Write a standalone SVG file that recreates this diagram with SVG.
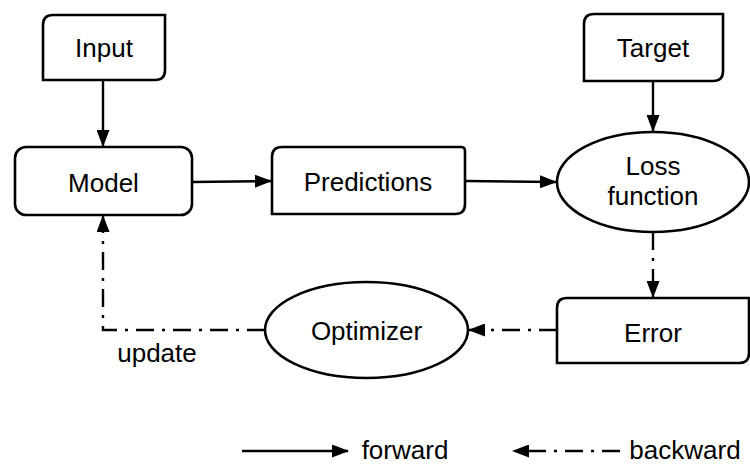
<svg xmlns="http://www.w3.org/2000/svg" width="750" height="466" viewBox="0 0 750 466">
<style>
.n{fill:#fff;stroke:#000;stroke-width:2.6}
.t{font-family:"Liberation Sans",Arial,sans-serif;font-size:26px;fill:#000;text-anchor:middle}
.c{fill:none;stroke:#000;stroke-width:2.4}
.d{stroke-dasharray:18,8,3,8}
</style>
<defs>
<marker id="ah" markerUnits="userSpaceOnUse" markerWidth="17" markerHeight="13" refX="16" refY="6.5" orient="auto">
<path d="M0,0 L17,6.5 L0,13 Z" fill="#000"/>
</marker>
</defs>
<rect width="750" height="466" fill="#fff"/>
<g id="connectors">
<path class="c" d="M103,80 V146" marker-end="url(#ah)"/>
<path class="c" d="M653,81 V131" marker-end="url(#ah)"/>
<path class="c" d="M192,182 L271,181" marker-end="url(#ah)"/>
<path class="c" d="M465,181 L556,182" marker-end="url(#ah)"/>
<path class="c d" d="M653,232 V297" marker-end="url(#ah)"/>
<path class="c d" d="M557,330 H469" marker-end="url(#ah)"/>
<path class="c d" d="M265,330 H103 V216" marker-end="url(#ah)"/>
<text class="t" x="157" y="362">update</text>
</g>
<g id="input">
<path class="n" d="M53,15 H165 V70 Q165,80 155,80 H43 V25 Q43,15 53,15 Z"/>
<text class="t" x="104" y="57">Input</text>
</g>
<g id="target">
<path class="n" d="M594,14 H723 V71 Q723,81 713,81 H584 V24 Q584,14 594,14 Z"/>
<text class="t" x="653" y="57">Target</text>
</g>
<g id="model">
<rect class="n" x="15" y="147" width="177" height="68" rx="11"/>
<text class="t" x="103.5" y="192">Model</text>
</g>
<g id="predictions">
<path class="n" d="M282,147 H461 Q465,147 465,151 V204 Q465,214 455,214 H272 V157 Q272,147 282,147 Z"/>
<text class="t" x="368" y="191">Predictions</text>
</g>
<g id="loss">
<ellipse class="n" cx="653" cy="182" rx="96" ry="50"/>
<text class="t" x="653" y="175">Loss</text>
<text class="t" x="653" y="205">function</text>
</g>
<g id="error">
<path class="n" d="M567,298 H749 V353 Q749,363 739,363 H557 V308 Q557,298 567,298 Z"/>
<text class="t" x="653" y="342">Error</text>
</g>
<g id="optimizer">
<ellipse class="n" cx="366.5" cy="330" rx="101.5" ry="48"/>
<text class="t" x="366.5" y="340">Optimizer</text>
</g>
<g id="legend">
<path class="c" d="M242,451 H348" marker-end="url(#ah)"/>
<text class="t" x="405" y="459">forward</text>
<path class="c d" d="M620,451 H513" marker-end="url(#ah)"/>
<text class="t" x="685" y="459">backward</text>
</g>
</svg>
